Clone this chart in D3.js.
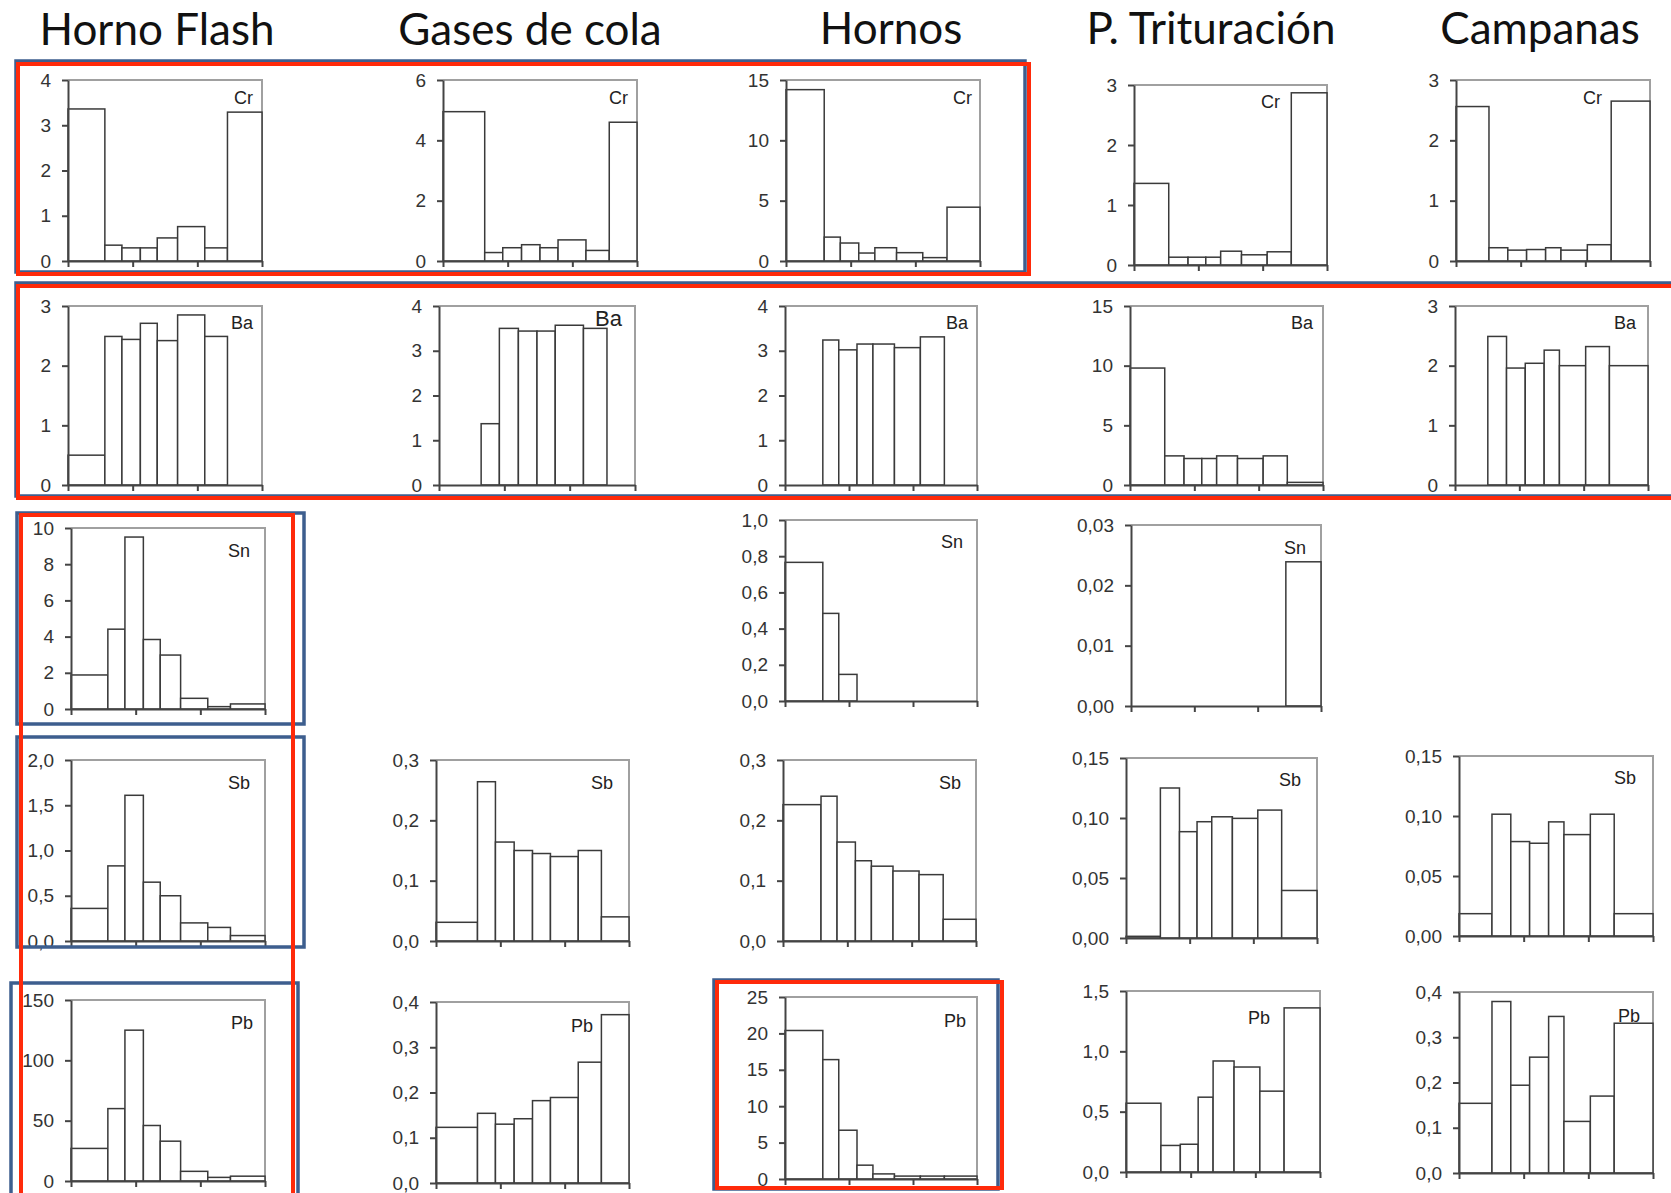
<!DOCTYPE html>
<html>
<head>
<meta charset="utf-8">
<script src="https://cdn.jsdelivr.net/npm/d3@7"></script>
<style>
body { margin: 0; background: #fff; }
svg text { font-family: "Liberation Sans", Arial, sans-serif; }
.title { font-family: Lato, "Open Sans", sans-serif; font-size: 44px; fill: #111; }
.axis path, .axis line { stroke: #444; stroke-width: 2; }
.axis text { font-size: 19px; fill: #333; }
.el { font-size: 18px; fill: #222; }
</style>
</head>
<body>
<svg width="1671" height="1193"></svg>
<script>
let svg = d3.select('svg');

const columns = ['Horno Flash', 'Gases de cola', 'Hornos', 'P. Trituración', 'Campanas'];

// bin edges, as a fraction of the x range, per column
const edgesHF = [0, 0.19, 0.278, 0.373, 0.46, 0.565, 0.705, 0.822, 1];
const edgesGases = [0, 0.215, 0.308, 0.405, 0.5, 0.593, 0.737, 0.857, 1];
const edgesHornos = [0, 0.197, 0.28, 0.375, 0.458, 0.57, 0.705, 0.83, 1];
const edgesTrit = [0, 0.18, 0.28, 0.372, 0.449, 0.557, 0.69, 0.815, 1];
const edgesCamp = [0, 0.17, 0.267, 0.364, 0.462, 0.541, 0.677, 0.8, 1];

// bar heights
const crHF = [3.36, 0.35, 0.29, 0.29, 0.51, 0.76, 0.29, 3.29];
const crGases = [4.95, 0.28, 0.44, 0.54, 0.44, 0.70, 0.35, 4.60];
const crHornos = [14.2, 1.98, 1.49, 0.66, 1.10, 0.69, 0.28, 4.46];
const crTrit = [1.36, 0.13, 0.13, 0.13, 0.23, 0.17, 0.22, 2.87];
const crCamp = [2.56, 0.22, 0.18, 0.19, 0.22, 0.18, 0.27, 2.65];

const baHF = [0.50, 2.49, 2.44, 2.71, 2.42, 2.85, 2.49, 0];
const baGases = [0, 1.37, 3.50, 3.44, 3.44, 3.57, 3.50, 0];
const baHornos = [0, 3.24, 3.02, 3.15, 3.15, 3.07, 3.31, 0];
const baTrit = [9.8, 2.44, 2.22, 2.22, 2.44, 2.22, 2.44, 0.22];
const baCamp = [0, 2.49, 1.96, 2.04, 2.26, 2.00, 2.32, 2.00];

const snHF = [1.88, 4.41, 9.5, 3.84, 2.98, 0.59, 0.13, 0.28];
const snHornos = [0.766, 0.484, 0.147, 0, 0, 0, 0, 0];
const snTrit = [0, 0, 0, 0, 0, 0, 0, 0.0239];

const sbHF = [0.36, 0.83, 1.61, 0.65, 0.50, 0.20, 0.15, 0.06];
const sbGases = [0.031, 0.264, 0.164, 0.150, 0.145, 0.140, 0.150, 0.040];
const sbHornos = [0.226, 0.240, 0.164, 0.133, 0.124, 0.116, 0.110, 0.036];
const sbTrit = [0.0014, 0.125, 0.0886, 0.0969, 0.101, 0.0997, 0.1066, 0.0396];
const sbCamp = [0.0186, 0.1015, 0.0787, 0.0773, 0.0951, 0.0845, 0.1015, 0.0186];

const pbHF = [27, 60, 125, 46, 33, 8, 3, 4];
const pbGases = [0.123, 0.154, 0.130, 0.142, 0.182, 0.189, 0.267, 0.372];
const pbHornos = [20.4, 16.4, 6.7, 1.9, 0.7, 0.4, 0.4, 0.4];
const pbTrit = [0.57, 0.22, 0.23, 0.62, 0.92, 0.87, 0.67, 1.36];
const pbCamp = [0.154, 0.379, 0.194, 0.256, 0.346, 0.114, 0.170, 0.331];

// y tick labels
const ticks0to3 = [0, 1, 2, 3];
const ticks0to4 = [0, 1, 2, 3, 4];
const ticks0to6 = [0, 2, 4, 6];
const ticks0to15 = [0, 5, 10, 15];
const ticks0to10 = [0, 2, 4, 6, 8, 10];
const ticks0to1 = [0, 0.2, 0.4, 0.6, 0.8, 1.0];
const ticks0to003 = [0, 0.01, 0.02, 0.03];
const ticks0to2 = [0, 0.5, 1.0, 1.5, 2.0];
const ticks0to03 = [0, 0.1, 0.2, 0.3];
const ticks0to015 = [0, 0.05, 0.10, 0.15];
const ticks0to150 = [0, 50, 100, 150];
const ticks0to04 = [0, 0.1, 0.2, 0.3, 0.4];
const ticks0to25 = [0, 5, 10, 15, 20, 25];
const ticks0to15b = [0, 0.5, 1.0, 1.5];

let locale = d3.formatLocale({ decimal: ',', thousands: '.', grouping: [3], currency: ['', '€'] });

// layout: plot box (left, top, width, bottom) and label offset from the top right corner
let panels = [
    { el: 'Cr', v: crHF, e: edgesHF, t: ticks0to4, f: 'd', x: 68, y: 80, w: 194, b: 261, dx: -9, dy: 24 },
    { el: 'Cr', v: crGases, e: edgesGases, t: ticks0to6, f: 'd', x: 443, y: 80, w: 194, b: 261, dx: -9, dy: 24 },
    { el: 'Cr', v: crHornos, e: edgesHornos, t: ticks0to15, f: 'd', x: 786, y: 80, w: 194, b: 261, dx: -8, dy: 24 },
    { el: 'Cr', v: crTrit, e: edgesTrit, t: ticks0to3, f: 'd', x: 1134, y: 85, w: 193, b: 265, dx: -47, dy: 23 },
    { el: 'Cr', v: crCamp, e: edgesCamp, t: ticks0to3, f: 'd', x: 1456, y: 80, w: 194, b: 261, dx: -48, dy: 24 },

    { el: 'Ba', v: baHF, e: edgesHF, t: ticks0to3, f: 'd', x: 68, y: 306, w: 194, b: 485, dx: -9, dy: 23 },
    { el: 'Ba', v: baGases, e: edgesGases, t: ticks0to4, f: 'd', x: 439, y: 306, w: 196, b: 485, dx: -13, dy: 20, big: true },
    { el: 'Ba', v: baHornos, e: edgesHornos, t: ticks0to4, f: 'd', x: 785, y: 306, w: 192, b: 485, dx: -9, dy: 23 },
    { el: 'Ba', v: baTrit, e: edgesTrit, t: ticks0to15, f: 'd', x: 1130, y: 306, w: 193, b: 485, dx: -10, dy: 23 },
    { el: 'Ba', v: baCamp, e: edgesCamp, t: ticks0to3, f: 'd', x: 1455, y: 306, w: 193, b: 485, dx: -12, dy: 23 },

    { el: 'Sn', v: snHF, e: edgesHF, t: ticks0to10, f: 'd', x: 71, y: 528, w: 194, b: 709, dx: -15, dy: 29 },
    { el: 'Sn', v: snHornos, e: edgesHornos, t: ticks0to1, f: '.1f', x: 785, y: 520, w: 192, b: 701, dx: -14, dy: 28 },
    { el: 'Sn', v: snTrit, e: edgesTrit, t: ticks0to003, f: '.2f', x: 1131, y: 525, w: 190, b: 706, dx: -15, dy: 29 },

    { el: 'Sb', v: sbHF, e: edgesHF, t: ticks0to2, f: '.1f', x: 71, y: 760, w: 194, b: 941, dx: -15, dy: 29 },
    { el: 'Sb', v: sbGases, e: edgesGases, t: ticks0to03, f: '.1f', x: 436, y: 760, w: 193, b: 941, dx: -16, dy: 29 },
    { el: 'Sb', v: sbHornos, e: edgesHornos, t: ticks0to03, f: '.1f', x: 783, y: 760, w: 193, b: 941, dx: -15, dy: 29 },
    { el: 'Sb', v: sbTrit, e: edgesTrit, t: ticks0to015, f: '.2f', x: 1126, y: 758, w: 191, b: 938, dx: -16, dy: 28 },
    { el: 'Sb', v: sbCamp, e: edgesCamp, t: ticks0to015, f: '.2f', x: 1459, y: 756, w: 194, b: 936, dx: -17, dy: 28 },

    { el: 'Pb', v: pbHF, e: edgesHF, t: ticks0to150, f: 'd', x: 71, y: 1000, w: 194, b: 1181, dx: -12, dy: 29 },
    { el: 'Pb', v: pbGases, e: edgesGases, t: ticks0to04, f: '.1f', x: 436, y: 1002, w: 193, b: 1183, dx: -36, dy: 30 },
    { el: 'Pb', v: pbHornos, e: edgesHornos, t: ticks0to25, f: 'd', x: 785, y: 997, w: 192, b: 1179, dx: -11, dy: 30 },
    { el: 'Pb', v: pbTrit, e: edgesTrit, t: ticks0to15b, f: '.1f', x: 1126, y: 991, w: 194, b: 1172, dx: -50, dy: 33 },
    { el: 'Pb', v: pbCamp, e: edgesCamp, t: ticks0to04, f: '.1f', x: 1459, y: 992, w: 194, b: 1173, dx: -13, dy: 30 }
];

// column titles
let titlePos = [[157, 45], [530, 45], [891, 44], [1211, 44], [1540, 44]];
svg.selectAll('.title').data(columns).enter().append('text')
    .attr('class', 'title')
    .attr('x', (d, i) => titlePos[i][0])
    .attr('y', (d, i) => titlePos[i][1])
    .attr('text-anchor', 'middle')
    .text(d => d);

panels.forEach(p => {
    let h = p.b - p.y;
    let g = svg.append('g').attr('transform', 'translate(' + [p.x, p.y] + ')');

    let xScale = d3.scaleLinear().domain([0, 1]).range([0, p.w]);
    let yScale = d3.scaleLinear().domain([0, d3.max(p.t)]).range([h, 0]);

    // light frame on top and right
    g.append('path')
        .attr('d', 'M0,0H' + p.w + 'V' + h)
        .attr('fill', 'none')
        .attr('stroke', '#a0a0a0')
        .attr('stroke-width', 2);

    let bins = p.v.map((v, i) => ({ x0: p.e[i], x1: p.e[i + 1], v: v }))
        .filter(d => d.v > 0);

    g.selectAll('.bar').data(bins).enter().append('rect')
        .attr('class', 'bar')
        .attr('x', d => xScale(d.x0))
        .attr('width', d => xScale(d.x1) - xScale(d.x0))
        .attr('y', d => yScale(d.v))
        .attr('height', d => h - yScale(d.v))
        .attr('fill', '#fff')
        .attr('stroke', '#3a3a3a')
        .attr('stroke-width', 1.5);

    g.append('g')
        .attr('class', 'axis')
        .call(d3.axisLeft(yScale).tickValues(p.t).tickFormat(locale.format(p.f))
            .tickSize(6).tickSizeOuter(0).tickPadding(11));

    g.append('g')
        .attr('class', 'axis')
        .attr('transform', 'translate(0,' + h + ')')
        .call(d3.axisBottom(xScale).tickValues([0, 1 / 3, 2 / 3, 1]).tickFormat('')
            .tickSize(6).tickSizeOuter(0));

    g.append('text')
        .attr('class', 'el')
        .attr('x', p.w + p.dx)
        .attr('y', p.dy)
        .attr('text-anchor', 'end')
        .style('font-size', p.big ? '22px' : null)
        .text(p.el);
});

// highlight frames drawn over the figure
let blueBoxes = [
    [16, 61, 1025, 272],
    [16, 283, 1690, 496],
    [17, 513, 304, 724],
    [17, 737, 304, 947],
    [11, 983, 298, 1210],
    [714, 980, 998, 1189]
];
let redBoxes = [
    [18, 64, 1029, 274],
    [18, 286, 1690, 498],
    [21, 515, 293, 1210],
    [717, 982, 1002, 1188]
];

svg.selectAll('.blue').data(blueBoxes).enter().append('rect')
    .attr('class', 'blue')
    .attr('x', d => d[0]).attr('y', d => d[1])
    .attr('width', d => d[2] - d[0]).attr('height', d => d[3] - d[1])
    .attr('fill', 'none')
    .attr('stroke', '#3d5e8e')
    .attr('stroke-width', 3.5);

svg.selectAll('.red').data(redBoxes).enter().append('rect')
    .attr('class', 'red')
    .attr('x', d => d[0]).attr('y', d => d[1])
    .attr('width', d => d[2] - d[0]).attr('height', d => d[3] - d[1])
    .attr('fill', 'none')
    .attr('stroke', '#ff2a0a')
    .attr('stroke-width', 4);
</script>
</body>
</html>
